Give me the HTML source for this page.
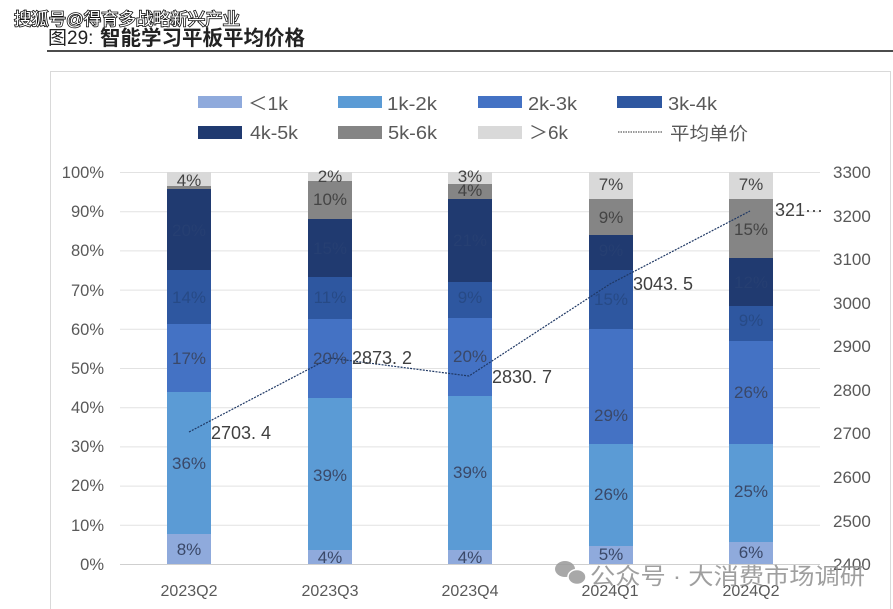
<!DOCTYPE html>
<html><head><meta charset="utf-8">
<style>
html,body{margin:0;padding:0;background:#fff;width:893px;height:609px;overflow:hidden;}
svg{display:block;}
text{font-family:"Liberation Sans","Noto Sans CJK SC",sans-serif;}
</style></head>
<body>
<svg width="893" height="609" viewBox="0 0 893 609" xmlns="http://www.w3.org/2000/svg">
<rect width="893" height="609" fill="#fff"/>
<!-- title -->
<text x="48" y="44" font-size="19" fill="#222">图29:</text>
<text x="100" y="45" font-size="20.5" font-weight="bold" fill="#222" textLength="205" lengthAdjust="spacingAndGlyphs">智能学习平板平均价格</text>
<line x1="47" y1="51" x2="893" y2="51" stroke="#111" stroke-width="1.5"/>
<!-- watermark top -->
<text x="14" y="25" font-size="17" fill="#fff" stroke="#111" stroke-width="1.6" paint-order="stroke" textLength="226" lengthAdjust="spacingAndGlyphs">搜狐号@得育多战略新兴产业</text>
<!-- frame -->
<path d="M50.5 609 V71.5 H890.5 V609" fill="none" stroke="#d9d9d9" stroke-width="1"/>
<!-- legend -->
<g font-size="18" fill="#595959">
<rect x="198" y="96" width="44" height="12" fill="#8faadc"/>
<text x="248" y="110" textLength="40" lengthAdjust="spacingAndGlyphs">＜1k</text>
<rect x="338" y="96" width="44" height="12" fill="#5b9bd5"/>
<text x="387" y="110" textLength="50" lengthAdjust="spacingAndGlyphs">1k-2k</text>
<rect x="478" y="96" width="44" height="12" fill="#4472c4"/>
<text x="528" y="110" textLength="49" lengthAdjust="spacingAndGlyphs">2k-3k</text>
<rect x="617" y="96" width="45" height="12" fill="#2e57a0"/>
<text x="668" y="110" textLength="49" lengthAdjust="spacingAndGlyphs">3k-4k</text>
<rect x="198" y="126" width="44" height="13" fill="#203a70"/>
<text x="250" y="139" textLength="48" lengthAdjust="spacingAndGlyphs">4k-5k</text>
<rect x="338" y="126" width="44" height="13" fill="#858585"/>
<text x="388" y="139" textLength="49" lengthAdjust="spacingAndGlyphs">5k-6k</text>
<rect x="478" y="126" width="44" height="13" fill="#d9d9d9"/>
<text x="529" y="139" textLength="39" lengthAdjust="spacingAndGlyphs">＞6k</text>
<line x1="618" y1="132" x2="662" y2="132" stroke="#333" stroke-width="1" stroke-dasharray="1.5 1"/>
<text x="670" y="140" textLength="78" lengthAdjust="spacingAndGlyphs">平均单价</text>
</g>
<!-- gridlines -->
<g stroke="#e2e2e2" stroke-width="1">
<line x1="120" y1="172.5" x2="820" y2="172.5"/>
<line x1="120" y1="211.7" x2="820" y2="211.7"/>
<line x1="120" y1="250.9" x2="820" y2="250.9"/>
<line x1="120" y1="290.1" x2="820" y2="290.1"/>
<line x1="120" y1="329.3" x2="820" y2="329.3"/>
<line x1="120" y1="368.5" x2="820" y2="368.5"/>
<line x1="120" y1="407.7" x2="820" y2="407.7"/>
<line x1="120" y1="446.9" x2="820" y2="446.9"/>
<line x1="120" y1="486.1" x2="820" y2="486.1"/>
<line x1="120" y1="525.3" x2="820" y2="525.3"/>
</g>
<line x1="120" y1="564.5" x2="820" y2="564.5" stroke="#cfcfcf" stroke-width="1"/>
<!-- left axis -->
<g font-size="16.5" fill="#595959" text-anchor="end">
<text x="104" y="178">100%</text>
<text x="104" y="217">90%</text>
<text x="104" y="256">80%</text>
<text x="104" y="296">70%</text>
<text x="104" y="335">60%</text>
<text x="104" y="374">50%</text>
<text x="104" y="413">40%</text>
<text x="104" y="452">30%</text>
<text x="104" y="491">20%</text>
<text x="104" y="531">10%</text>
<text x="104" y="570">0%</text>
</g>
<!-- right axis -->
<g font-size="17" fill="#595959">
<text x="833" y="178">3300</text>
<text x="833" y="222">3200</text>
<text x="833" y="265">3100</text>
<text x="833" y="309">3000</text>
<text x="833" y="352">2900</text>
<text x="833" y="396">2800</text>
<text x="833" y="439">2700</text>
<text x="833" y="483">2600</text>
<text x="833" y="527">2500</text>
<text x="833" y="570">2400</text>
</g>
<!-- bars -->
<g>
<rect x="167" y="534" width="44" height="30" fill="#8faadc"/>
<rect x="167" y="392" width="44" height="142" fill="#5b9bd5"/>
<rect x="167" y="324" width="44" height="68" fill="#4472c4"/>
<rect x="167" y="270" width="44" height="54" fill="#2e57a0"/>
<rect x="167" y="189" width="44" height="81" fill="#203a70"/>
<rect x="167" y="186" width="44" height="3" fill="#858585"/>
<rect x="167" y="172" width="44" height="14" fill="#d9d9d9"/>
</g>
<g>
<rect x="308" y="550" width="44" height="14" fill="#8faadc"/>
<rect x="308" y="398" width="44" height="152" fill="#5b9bd5"/>
<rect x="308" y="319" width="44" height="79" fill="#4472c4"/>
<rect x="308" y="277" width="44" height="42" fill="#2e57a0"/>
<rect x="308" y="219" width="44" height="58" fill="#203a70"/>
<rect x="308" y="181" width="44" height="38" fill="#858585"/>
<rect x="308" y="172" width="44" height="9" fill="#d9d9d9"/>
</g>
<g>
<rect x="448" y="550" width="44" height="14" fill="#8faadc"/>
<rect x="448" y="396" width="44" height="154" fill="#5b9bd5"/>
<rect x="448" y="318" width="44" height="78" fill="#4472c4"/>
<rect x="448" y="282" width="44" height="36" fill="#2e57a0"/>
<rect x="448" y="199" width="44" height="83" fill="#203a70"/>
<rect x="448" y="184" width="44" height="15" fill="#858585"/>
<rect x="448" y="172" width="44" height="12" fill="#d9d9d9"/>
</g>
<g>
<rect x="589" y="546" width="44" height="18" fill="#8faadc"/>
<rect x="589" y="444" width="44" height="102" fill="#5b9bd5"/>
<rect x="589" y="329" width="44" height="115" fill="#4472c4"/>
<rect x="589" y="270" width="44" height="59" fill="#2e57a0"/>
<rect x="589" y="235" width="44" height="35" fill="#203a70"/>
<rect x="589" y="199" width="44" height="36" fill="#858585"/>
<rect x="589" y="172" width="44" height="27" fill="#d9d9d9"/>
</g>
<g>
<rect x="729" y="542" width="44" height="22" fill="#8faadc"/>
<rect x="729" y="444" width="44" height="98" fill="#5b9bd5"/>
<rect x="729" y="341" width="44" height="103" fill="#4472c4"/>
<rect x="729" y="306" width="44" height="35" fill="#2e57a0"/>
<rect x="729" y="258" width="44" height="48" fill="#203a70"/>
<rect x="729" y="199" width="44" height="59" fill="#858585"/>
<rect x="729" y="172" width="44" height="27" fill="#d9d9d9"/>
</g>
<!-- bar labels -->
<g font-size="17" text-anchor="middle" fill="#3a4868">
<text x="189" y="555">8%</text>
<text x="189" y="469">36%</text>
<text x="189" y="364">17%</text>
<text x="189" y="303" fill="#274a86">14%</text>
<text x="189" y="236" fill="#263f72">20%</text>
<text x="189" y="186" fill="#444">4%</text>

<text x="330" y="563">4%</text>
<text x="330" y="481">39%</text>
<text x="330" y="364">20%</text>
<text x="330" y="303" fill="#274a86">11%</text>
<text x="330" y="254" fill="#263f72">15%</text>
<text x="330" y="205" fill="#444">10%</text>
<text x="330" y="182" fill="#444">2%</text>

<text x="470" y="563">4%</text>
<text x="470" y="478">39%</text>
<text x="470" y="362">20%</text>
<text x="470" y="303" fill="#274a86">9%</text>
<text x="470" y="246" fill="#263f72">21%</text>
<text x="470" y="196" fill="#444">4%</text>
<text x="470" y="182" fill="#444">3%</text>

<text x="611" y="560">5%</text>
<text x="611" y="500">26%</text>
<text x="611" y="421">29%</text>
<text x="611" y="305" fill="#274a86">15%</text>
<text x="611" y="256" fill="#263f72">9%</text>
<text x="611" y="223" fill="#444">9%</text>
<text x="611" y="190" fill="#444">7%</text>

<text x="751" y="558">6%</text>
<text x="751" y="497">25%</text>
<text x="751" y="398">26%</text>
<text x="751" y="326" fill="#274a86">9%</text>
<text x="751" y="288" fill="#263f72">12%</text>
<text x="751" y="235" fill="#444">15%</text>
<text x="751" y="190" fill="#444">7%</text>
</g>
<!-- line -->
<polyline points="189,432 330,358 469,376 610,284 750,211" fill="none" stroke="#1f3864" stroke-width="1.2" stroke-dasharray="2 1.2"/>
<g font-size="18" fill="#404040">
<text x="211" y="439">2703. 4</text>
<text x="352" y="364">2873. 2</text>
<text x="492" y="383">2830. 7</text>
<text x="633" y="290">3043. 5</text>
<text x="775" y="216">321···</text>
</g>
<!-- x labels -->
<g font-size="16" fill="#595959" text-anchor="middle">
<text x="189" y="596">2023Q2</text>
<text x="330" y="596">2023Q3</text>
<text x="470" y="596">2023Q4</text>
<text x="610" y="596">2024Q1</text>
<text x="751" y="596">2024Q2</text>
</g>
<!-- bottom watermark -->
<g opacity="0.85">
<ellipse cx="565" cy="569" rx="10" ry="8" fill="#9a9a9a"/>
<ellipse cx="577" cy="577" rx="9" ry="7.5" fill="#9a9a9a" stroke="#fff" stroke-width="1.5"/>
<text x="590" y="584" font-size="23" fill="#8f8f8f" textLength="275" lengthAdjust="spacingAndGlyphs">公众号 · 大消费市场调研</text>
</g>
</svg>
</body></html>
